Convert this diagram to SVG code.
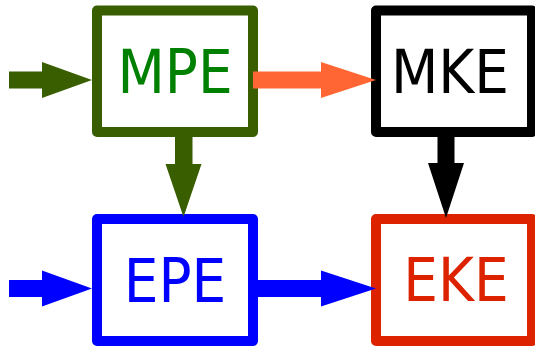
<svg xmlns="http://www.w3.org/2000/svg" width="535" height="347" viewBox="0 0 535 347">
<style>
.box{fill:#ffffff;stroke-width:10;stroke-linejoin:round}
.lbl{font-family:"DejaVu Sans Condensed","DejaVu Sans",sans-serif;font-stretch:condensed;font-size:61px;text-anchor:middle}
</style>
<rect width="535" height="347" fill="#ffffff"/>
<g id="MPE">
<rect class="box" x="97" y="10.5" width="156" height="121.5" stroke="#385e00"/>
<text class="lbl" x="175" y="93.3" fill="#008000">MPE</text>
</g>
<g id="MKE">
<rect class="box" x="376" y="10.5" width="156" height="121.5" stroke="#000000"/>
<text class="lbl" x="450" y="93.3" fill="#000000">MKE</text>
</g>
<g id="EPE">
<rect class="box" x="97" y="219" width="156" height="122" stroke="#0000ff"/>
<text class="lbl" x="175" y="301.7" fill="#0000ff">EPE</text>
</g>
<g id="EKE">
<rect class="box" x="376" y="219" width="156" height="122" stroke="#dd2200"/>
<text class="lbl" x="456" y="300.5" fill="#dd2200">EKE</text>
</g>
<g id="connectors">
<path d="M9,71.5 H42 V62 L92,80 L42,98 V88.5 H9 Z" fill="#385e00"/>
<path d="M253,71.5 H321 V62 L376,80 L321,98 V88.5 H253 Z" fill="#ff6633"/>
<path d="M175,137 H192.5 V164 H201.5 L183.5,217 L165.5,164 H175 Z" fill="#385e00"/>
<path d="M437.5,137 H454.5 V163 H464 L446,218 L428,163 H437.5 Z" fill="#000000"/>
<path d="M9,280 H42 V270.5 L92,288.5 L42,306.5 V297 H9 Z" fill="#0000ff"/>
<path d="M253,280 H321 V270.5 L376,288.5 L321,306.5 V297 H253 Z" fill="#0000ff"/>
</g>
</svg>
